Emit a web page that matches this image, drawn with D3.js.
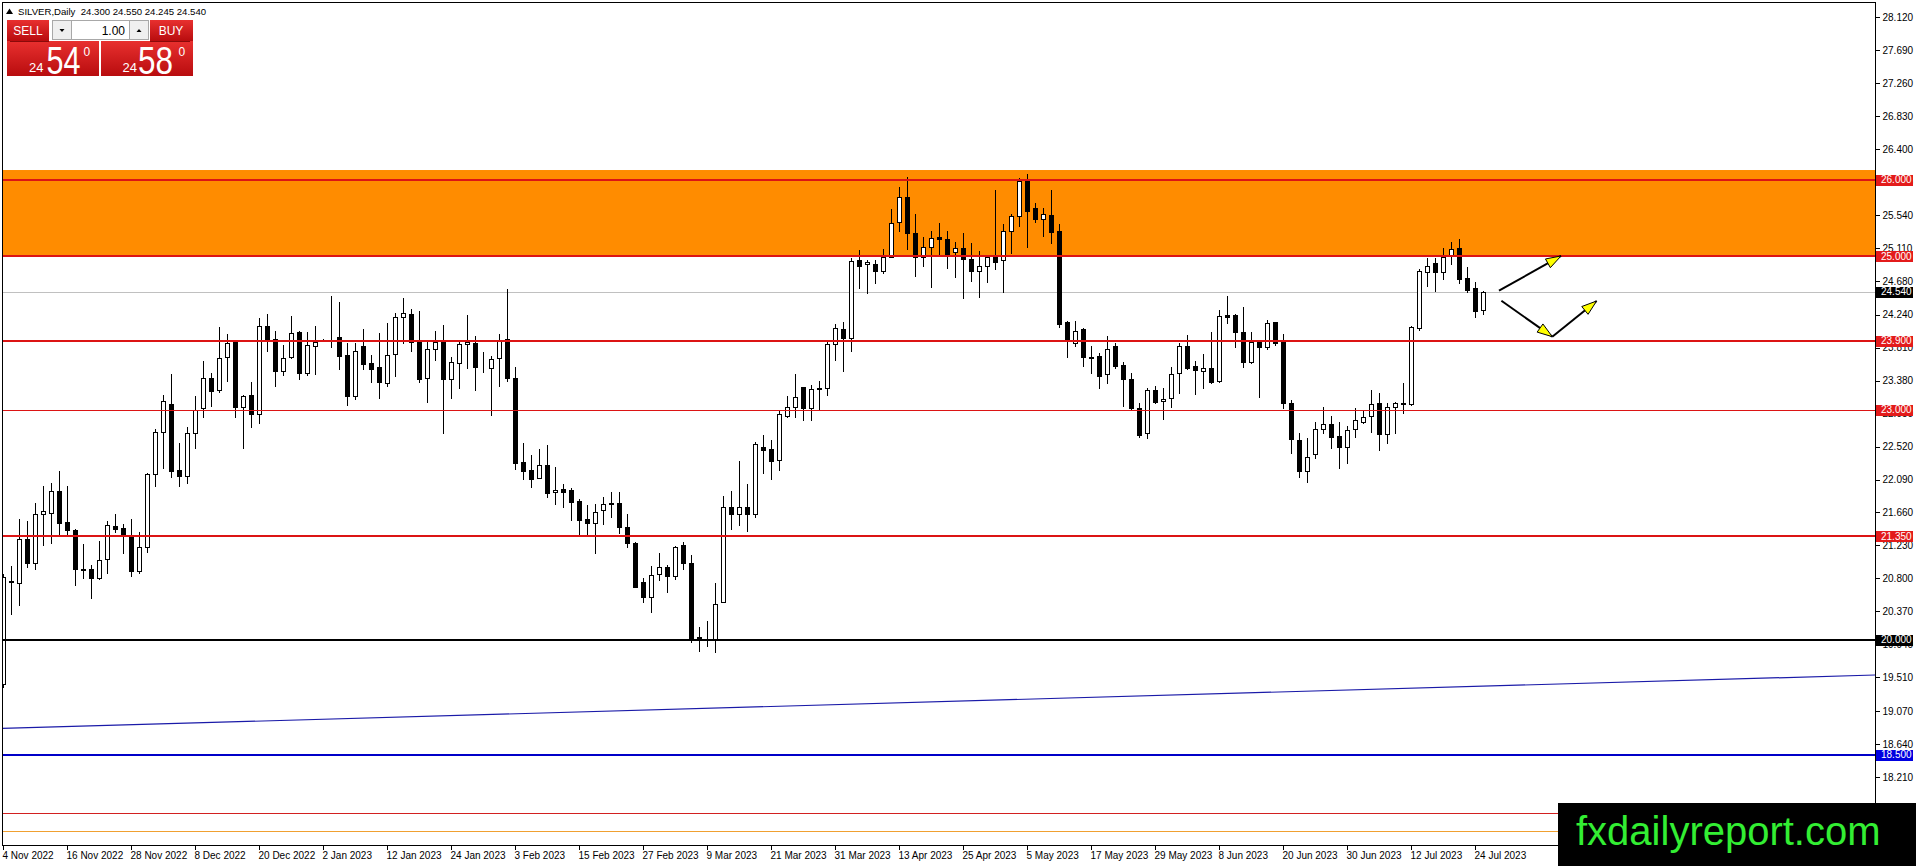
<!DOCTYPE html>
<html>
<head>
<meta charset="utf-8">
<script src="https://d3js.org/d3.v7.min.js"></script>
<style>
  html, body { margin: 0; padding: 0; background: #fff; overflow: hidden; }
  svg { display: block; font-family: "Liberation Sans", Arial, sans-serif; }
</style>
</head>
<body>
<div id="chart"></div>
<script>
// ---- data ----
const symbol = "SILVER,Daily";
const lastQuote = [24.300, 24.550, 24.245, 24.540];

const opens = [19.42,20.76,20.745,21.31,21.005,21.635,21.65,21.935,21.536,21.43,20.92,20.92,20.8,21.05,21.49,21.453,21.353,20.9,21.214,22.157,
  22.705,23.07,22.214,22.14,22.69,23.018,23.409,23.257,23.683,23.887,23.03,23.187,22.94,24.091,23.917,23.509,23.691,24.017,23.483,23.835,
  23.917,23.943,23.943,23.713,23.179,23.83,23.604,23.552,23.352,23.722,24.213,24.243,23.887,23.418,23.787,23.887,23.4,23.604,23.852,23.865,
  23.548,23.548,23.67,23.917,23.409,22.314,22.214,22.114,22.274,21.922,21.966,21.953,21.809,21.57,21.527,21.692,21.783,21.779,21.466,21.257,
  20.749,20.562,20.853,20.945,20.836,21.236,20.997,20.041,20.01,20.015,20.488,21.736,21.636,21.727,21.636,22.509,22.483,22.344,22.918,23.031,
  23.292,23.018,23.288,23.279,23.857,24.048,23.931,24.952,24.896,24.9,24.813,24.987,25.443,25.769,25.3,24.987,25.126,25.248,25.222,25.052,
  25.104,24.965,24.813,24.878,25.017,24.952,25.33,25.526,25.987,25.626,25.487,25.539,25.33,24.14,23.866,24.048,23.692,23.701,23.462,23.831,
  23.583,23.401,23.018,22.692,23.257,23.114,23.149,23.475,23.831,23.575,23.509,23.54,23.379,24.235,24.235,24.018,23.618,23.879,23.813,24.14,
  23.887,23.091,22.605,22.205,22.418,22.744,22.813,22.657,22.509,22.744,22.844,22.918,23.083,22.679,23.031,23.087,23.074,24.061,24.8,24.908,
  24.791,25.017,25.104,24.712,24.582,24.300];
const highs = [20.86,20.96,21.575,21.55,21.78,22.005,22.05,22.2,22.005,21.44,21.245,20.97,21.29,21.55,21.64,21.51,21.575,21.4,22.175,22.75,
  23.19,23.465,22.56,22.774,23.174,23.635,23.483,24.074,23.987,23.895,23.19,23.357,24.19,24.248,24.03,23.844,24.222,24.026,24.017,24.091,
  23.926,24.487,24.4,23.865,23.865,24.052,23.713,23.996,24.135,24.256,24.452,24.313,24.287,23.878,24.026,24.104,23.691,23.909,24.235,23.961,
  23.757,23.704,23.987,24.569,23.552,22.57,22.409,22.483,22.54,22.248,22.031,21.974,21.835,21.757,21.77,21.866,21.931,21.931,21.635,21.279,
  20.801,20.962,21.127,20.975,21.227,21.27,21.105,20.171,20.249,20.745,21.879,21.94,22.335,22.031,22.583,22.67,22.605,22.99,23.179,23.462,
  23.3,23.323,23.379,23.887,24.118,24.14,24.974,25.083,24.952,24.952,25.091,25.613,25.9,26.03,25.548,25.256,25.335,25.439,25.335,25.191,
  25.309,25.178,25.07,25.004,25.865,25.417,25.552,26.017,26.074,25.7,25.635,25.865,25.417,24.157,24.157,24.061,23.831,23.744,23.961,23.874,
  23.627,23.475,23.092,23.279,23.314,23.279,23.553,23.874,23.974,23.635,23.722,24.009,24.3,24.483,24.248,24.344,24.018,23.887,24.17,24.148,
  23.987,23.126,22.692,22.626,22.844,23.031,22.918,22.844,22.787,23.018,22.996,23.257,23.213,23.091,23.105,23.343,24.091,24.83,24.982,24.982,
  25.104,25.191,25.221,24.856,24.66,24.550];
const lows = [19.39,20.34,20.46,20.95,20.92,21.24,21.26,21.37,21.37,20.72,20.8,20.55,20.79,20.875,21.41,21.13,20.83,20.87,21.15,22.01,
  22.245,22.127,22.0,22.05,22.5,22.9,23.048,23.23,23.378,22.91,22.5,22.78,22.83,23.765,23.309,23.452,23.68,23.4,23.452,23.465,
  23.9,23.82,23.53,23.061,23.14,23.526,23.365,23.157,23.309,23.439,23.874,23.765,23.365,23.105,23.648,22.7,23.157,23.279,23.548,23.257,
  23.487,22.931,23.313,23.374,22.227,22.092,21.996,22.114,21.857,21.77,21.735,21.562,21.366,21.379,21.127,21.505,21.596,21.388,21.205,20.685,
  20.497,20.367,20.779,20.627,20.792,20.923,19.975,19.858,19.919,19.845,20.488,21.444,21.497,21.423,21.605,22.17,22.1,22.21,22.9,22.901,
  22.866,22.866,22.997,23.192,23.648,23.509,23.77,24.583,24.518,24.648,24.778,24.987,25.335,25.096,24.748,24.874,24.596,25.009,24.852,24.735,
  24.452,24.678,24.474,24.67,24.83,24.53,25.039,25.396,25.117,25.452,25.265,25.17,24.083,23.683,23.835,23.575,23.483,23.279,23.344,23.548,
  23.049,22.997,22.649,22.627,23.092,22.875,23.04,23.223,23.527,23.201,23.288,23.353,23.366,24.135,23.822,23.553,23.605,23.17,23.787,23.844,
  23.018,22.44,22.127,22.062,22.366,22.7,22.505,22.235,22.3,22.648,22.822,22.713,22.474,22.57,22.692,22.961,23.061,24.039,24.613,24.547,
  24.704,24.895,24.656,24.539,24.213,24.245];
const closes = [20.82,20.77,21.31,21.005,21.635,21.68,21.935,21.527,21.43,20.92,20.915,20.8,21.04,21.497,21.45,21.366,20.9,21.214,22.166,22.705,
  23.11,22.205,22.14,22.69,23.0,23.409,23.248,23.67,23.865,23.04,23.174,22.94,24.087,23.909,23.509,23.67,24.004,23.483,23.844,23.887,
  23.92,23.943,23.704,23.179,23.765,23.596,23.531,23.365,23.713,24.204,24.256,23.878,23.4,23.787,23.878,23.4,23.617,23.857,23.878,23.561,
  23.548,23.661,23.9,23.418,22.3,22.205,22.1,22.274,21.918,21.953,21.931,21.8,21.562,21.518,21.67,21.77,21.766,21.466,21.257,20.693,
  20.562,20.845,20.945,20.836,21.205,20.997,20.015,19.997,19.993,20.462,21.736,21.636,21.727,21.636,22.548,22.474,22.335,22.95,23.04,23.17,
  23.018,23.266,23.275,23.857,24.061,23.931,24.944,24.878,24.922,24.813,24.987,25.43,25.769,25.3,24.996,25.126,25.235,25.222,25.026,25.104,
  24.961,24.813,24.878,24.996,24.93,25.33,25.526,25.987,25.595,25.487,25.548,25.322,24.118,23.901,24.031,23.683,23.679,23.444,23.787,23.575,
  23.396,23.018,22.671,23.257,23.105,23.14,23.462,23.831,23.548,23.518,23.54,23.366,24.222,24.213,24.018,23.618,23.879,23.813,24.127,23.866,
  23.091,22.613,22.205,22.379,22.744,22.809,22.648,22.518,22.735,22.866,22.909,23.074,22.679,23.031,23.083,23.074,24.074,24.808,24.878,24.791,
  24.995,25.091,24.704,24.56,24.291,24.540];

const dateLabels = ["4 Nov 2022","16 Nov 2022","28 Nov 2022","8 Dec 2022","20 Dec 2022","2 Jan 2023","12 Jan 2023","24 Jan 2023",
  "3 Feb 2023","15 Feb 2023","27 Feb 2023","9 Mar 2023","21 Mar 2023","31 Mar 2023","13 Apr 2023","25 Apr 2023","5 May 2023",
  "17 May 2023","29 May 2023","8 Jun 2023","20 Jun 2023","30 Jun 2023","12 Jul 2023","24 Jul 2023"];
const dateLabelStep = 8; // one label every 8 bars
const priceTicks = [28.120,27.690,27.260,26.830,26.400,25.970,25.540,25.110,24.680,24.240,23.810,23.380,22.950,22.520,
  22.090,21.660,21.230,20.800,20.370,19.940,19.510,19.070,18.640,18.210,17.780];

const supplyZone = [25.000, 26.125];
const redLevels = [26.000, 25.000, 23.900, 21.350];
const thinRedLevels = [23.000];
const blackLevels = [20.000];
const blueLevels = [18.500];
const lowerRedLine = [17.74];
const lowerOrangeLine = [17.51];
const trendBars = [-0.375, 234];
const trendPrices = [18.844, 19.541];
// arrows: [bar1, bar2] / [price1, price2]
const arrowBars = [[187.0, 194.75], [187.3, 193.66], [193.66, 199.2]];
const arrowPrices = [[24.552, 25.004], [24.421, 23.952], [23.952, 24.417]];
const sellPrice = ["24", "54", "0"];
const buyPrice = ["24", "58", "0"];
const lotSize = "1.00";

// ---- layout ----
const W = 1916, H = 866;
const plotL = 2, plotT = 2, plotR = 1875, plotB = 845;

const svg = d3.select("#chart").append("svg")
  .attr("width", W).attr("height", H);

const x = d3.scaleLinear().domain([0, 234]).range([3, 1875]);
const y = d3.scaleLinear().domain([17.3248, 28.3416]).range([845, 0]);
const py = v => Math.round(y(v)) + 0.5;

const plot = svg.append("g");
svg.append("clipPath").attr("id", "plotclip")
  .append("rect").attr("x", plotL).attr("y", plotT).attr("width", plotR - plotL).attr("height", plotB - plotT);
plot.attr("clip-path", "url(#plotclip)");

// supply zone rectangle (background)
plot.append("rect")
  .attr("x", plotL).attr("width", plotR - plotL)
  .attr("y", y(supplyZone[1])).attr("height", y(supplyZone[0]) - y(supplyZone[1]))
  .attr("fill", "#ff8c00");

// bid line
plot.append("line")
  .attr("x1", plotL).attr("x2", plotR)
  .attr("y1", py(lastQuote[3])).attr("y2", py(lastQuote[3]))
  .attr("stroke", "#c0c0c0").attr("stroke-width", 1);

// candles
const bars = d3.range(opens.length).map(i => ({ i, o: opens[i], h: highs[i], l: lows[i], c: closes[i] }));
const cg = plot.append("g").attr("shape-rendering", "crispEdges");
cg.selectAll("line.wick").data(bars).enter().append("line")
  .attr("class", "wick")
  .attr("x1", d => Math.round(x(d.i)) + 0.5).attr("x2", d => Math.round(x(d.i)) + 0.5)
  .attr("y1", d => Math.round(y(d.h))).attr("y2", d => Math.round(y(d.l)) + 1)
  .attr("stroke", "#000").attr("stroke-width", 1);
cg.selectAll("rect.body").data(bars).enter().append("rect")
  .attr("class", "body")
  .attr("x", d => Math.round(x(d.i)) - 1.5)
  .attr("width", 4)
  .attr("y", d => py(Math.max(d.o, d.c)))
  .attr("height", d => Math.max(0, py(Math.min(d.o, d.c)) - py(Math.max(d.o, d.c))))
  .attr("fill", d => d.c >= d.o ? "#fff" : "#000")
  .attr("stroke", "#000").attr("stroke-width", 1);

// horizontal levels
function hline(vals, color, width) {
  plot.selectAll(null).data(vals).enter().append("line")
    .attr("x1", plotL).attr("x2", plotR)
    .attr("y1", d => width % 2 ? py(d) : Math.round(y(d)))
    .attr("y2", d => width % 2 ? py(d) : Math.round(y(d)))
    .attr("stroke", color).attr("stroke-width", width)
    .attr("shape-rendering", "crispEdges");
}
hline(redLevels, "#dc1414", 2);
hline(thinRedLevels, "#dc1414", 1);
hline(blackLevels, "#000", 2);
hline(blueLevels, "#0000c8", 2);
hline(lowerRedLine, "#d22020", 1);
hline(lowerOrangeLine, "#f0a030", 1);

// trend line
plot.append("line")
  .attr("x1", x(trendBars[0])).attr("y1", y(trendPrices[0]))
  .attr("x2", x(trendBars[1])).attr("y2", y(trendPrices[1]))
  .attr("stroke", "#1a1aa8").attr("stroke-width", 1.2);

// arrows
arrowBars.forEach((b, k) => {
  const x1 = x(b[0]), y1 = y(arrowPrices[k][0]);
  const x2 = x(b[1]), y2 = y(arrowPrices[k][1]);
  const ang = Math.atan2(y2 - y1, x2 - x1);
  plot.append("line")
    .attr("x1", x1).attr("y1", y1).attr("x2", x2).attr("y2", y2)
    .attr("stroke", "#000").attr("stroke-width", 2);
  const len = 15, half = 5;
  const bx = x2 - len * Math.cos(ang), by = y2 - len * Math.sin(ang);
  const pts = [
    [x2, y2],
    [bx + half * Math.sin(ang), by - half * Math.cos(ang)],
    [bx - half * Math.sin(ang), by + half * Math.cos(ang)]
  ];
  plot.append("polygon")
    .attr("points", pts.map(p => p.join(",")).join(" "))
    .attr("fill", "#ffff00").attr("stroke", "#000").attr("stroke-width", 1);
});

// frame
svg.append("rect")
  .attr("x", plotL + 0.5).attr("y", plotT + 0.5)
  .attr("width", plotR - plotL).attr("height", plotB - plotT)
  .attr("fill", "none").attr("stroke", "#000").attr("stroke-width", 1)
  .attr("shape-rendering", "crispEdges");

// price axis
const yAxis = d3.axisRight(y).tickValues(priceTicks).tickSize(4).tickPadding(3)
  .tickFormat(d3.format(".3f"));
const ya = svg.append("g").attr("transform", `translate(${plotR + 0.5},0)`).call(yAxis);
ya.select(".domain").remove();
ya.selectAll("text").attr("font-size", 10).attr("font-family", "Liberation Sans, Arial, sans-serif").attr("fill", "#000");
ya.selectAll("line").attr("shape-rendering", "crispEdges");

// level labels on price axis
function axisLabel(vals, bg) {
  const g = svg.selectAll(null).data(vals).enter().append("g");
  g.append("rect")
    .attr("x", plotR + 1).attr("width", 37)
    .attr("y", d => Math.round(y(d)) - 5.5).attr("height", 11)
    .attr("fill", bg).attr("shape-rendering", "crispEdges");
  g.append("text")
    .attr("x", plotR + 6).attr("y", d => y(d)).attr("dy", "0.36em")
    .attr("font-size", 10).attr("fill", "#fff")
    .text(d => d3.format(".3f")(d));
}
axisLabel(redLevels.concat(thinRedLevels), "#e31b1b");
axisLabel(blackLevels, "#000");
axisLabel(blueLevels, "#0000e0");
axisLabel([lastQuote[3]], "#000");

// date axis
const dateIdx = dateLabels.map((_, k) => k * dateLabelStep);
const xa = svg.append("g").attr("transform", `translate(0,${plotB + 0.5})`);
xa.selectAll("line").data(dateIdx).enter().append("line")
  .attr("x1", d => Math.round(x(d)) + 0.5).attr("x2", d => Math.round(x(d)) + 0.5)
  .attr("y1", 0).attr("y2", 4).attr("stroke", "#000").attr("shape-rendering", "crispEdges");
xa.selectAll("text").data(dateIdx).enter().append("text")
  .attr("x", d => x(d) - 0.5).attr("y", 13)
  .attr("font-size", 10).attr("fill", "#000")
  .text((d, k) => dateLabels[k]);

// header
const hdr = svg.append("g");
hdr.append("path").attr("d", "M6,14 L9.5,8.5 L13,14 Z").attr("fill", "#000");
hdr.append("text").attr("x", 18).attr("y", 14.5).attr("font-size", 9.6).attr("fill", "#000")
  .attr("xml:space", "preserve")
  .text(symbol + "  " + lastQuote.map(d3.format(".3f")).join(" "));

// one-click trading panel
const defs = svg.append("defs");
const grad = defs.append("linearGradient").attr("id", "redgrad").attr("x1", 0).attr("y1", 0).attr("x2", 0).attr("y2", 1);
grad.append("stop").attr("offset", "0%").attr("stop-color", "#e8302f");
grad.append("stop").attr("offset", "100%").attr("stop-color", "#b80c0e");

const panel = svg.append("g").attr("shape-rendering", "crispEdges");
panel.append("rect").attr("x", 7).attr("y", 20).attr("width", 42).attr("height", 21).attr("fill", "url(#redgrad)");
panel.append("rect").attr("x", 150).attr("y", 20).attr("width", 43).attr("height", 21).attr("fill", "url(#redgrad)");
panel.append("rect").attr("x", 7).attr("y", 41).attr("width", 92).attr("height", 35).attr("fill", "url(#redgrad)");
panel.append("rect").attr("x", 101).attr("y", 41).attr("width", 92).attr("height", 35).attr("fill", "url(#redgrad)");
panel.append("line").attr("x1", 10).attr("x2", 49).attr("y1", 41.5).attr("y2", 41.5).attr("stroke", "#8a0a0a");
panel.append("line").attr("x1", 150).attr("x2", 190).attr("y1", 41.5).attr("y2", 41.5).attr("stroke", "#8a0a0a");
panel.append("rect").attr("x", 52.5).attr("y", 20.5).attr("width", 19).attr("height", 19)
  .attr("fill", "#efefef").attr("stroke", "#a8a8a8");
panel.append("rect").attr("x", 71.5).attr("y", 20.5).attr("width", 58).attr("height", 19)
  .attr("fill", "#fff").attr("stroke", "#a8a8a8");
panel.append("rect").attr("x", 129.5).attr("y", 20.5).attr("width", 19).attr("height", 19)
  .attr("fill", "#efefef").attr("stroke", "#a8a8a8");
svg.append("path").attr("d", "M59.5,29 L64.5,29 L62,32 Z").attr("fill", "#000");
svg.append("path").attr("d", "M136.5,32 L141.5,32 L139,29 Z").attr("fill", "#000");

const ptxt = svg.append("g").attr("fill", "#fff");
ptxt.append("text").attr("x", 28).attr("y", 35).attr("text-anchor", "middle").attr("font-size", 12).text("SELL");
ptxt.append("text").attr("x", 171).attr("y", 35).attr("text-anchor", "middle").attr("font-size", 12).text("BUY");
svg.append("text").attr("x", 125).attr("y", 35).attr("text-anchor", "end").attr("font-size", 12).attr("fill", "#000").text(lotSize);

function bigPrice(parts, xs, xb, xsup, bw) {
  ptxt.append("text").attr("x", xs).attr("y", 72).attr("font-size", 13).text(parts[0]);
  ptxt.append("text").attr("x", xb).attr("y", 74).attr("font-size", 39)
    .attr("textLength", bw).attr("lengthAdjust", "spacingAndGlyphs").text(parts[1]);
  ptxt.append("text").attr("x", xsup).attr("y", 56).attr("font-size", 12).text(parts[2]);
}
bigPrice(sellPrice, 29, 46.5, 83.5, 34);
bigPrice(buyPrice, 122.5, 138, 178.5, 35);

// watermark
svg.append("rect").attr("x", 1558).attr("y", 803).attr("width", W - 1558).attr("height", H - 803).attr("fill", "#000");
svg.append("text").attr("x", 1576).attr("y", 845).attr("font-size", 40)
  .attr("font-family", "Liberation Sans, Arial, sans-serif")
  .attr("fill", "#33ee33").text("fxdailyreport.com");
</script>
</body>
</html>
